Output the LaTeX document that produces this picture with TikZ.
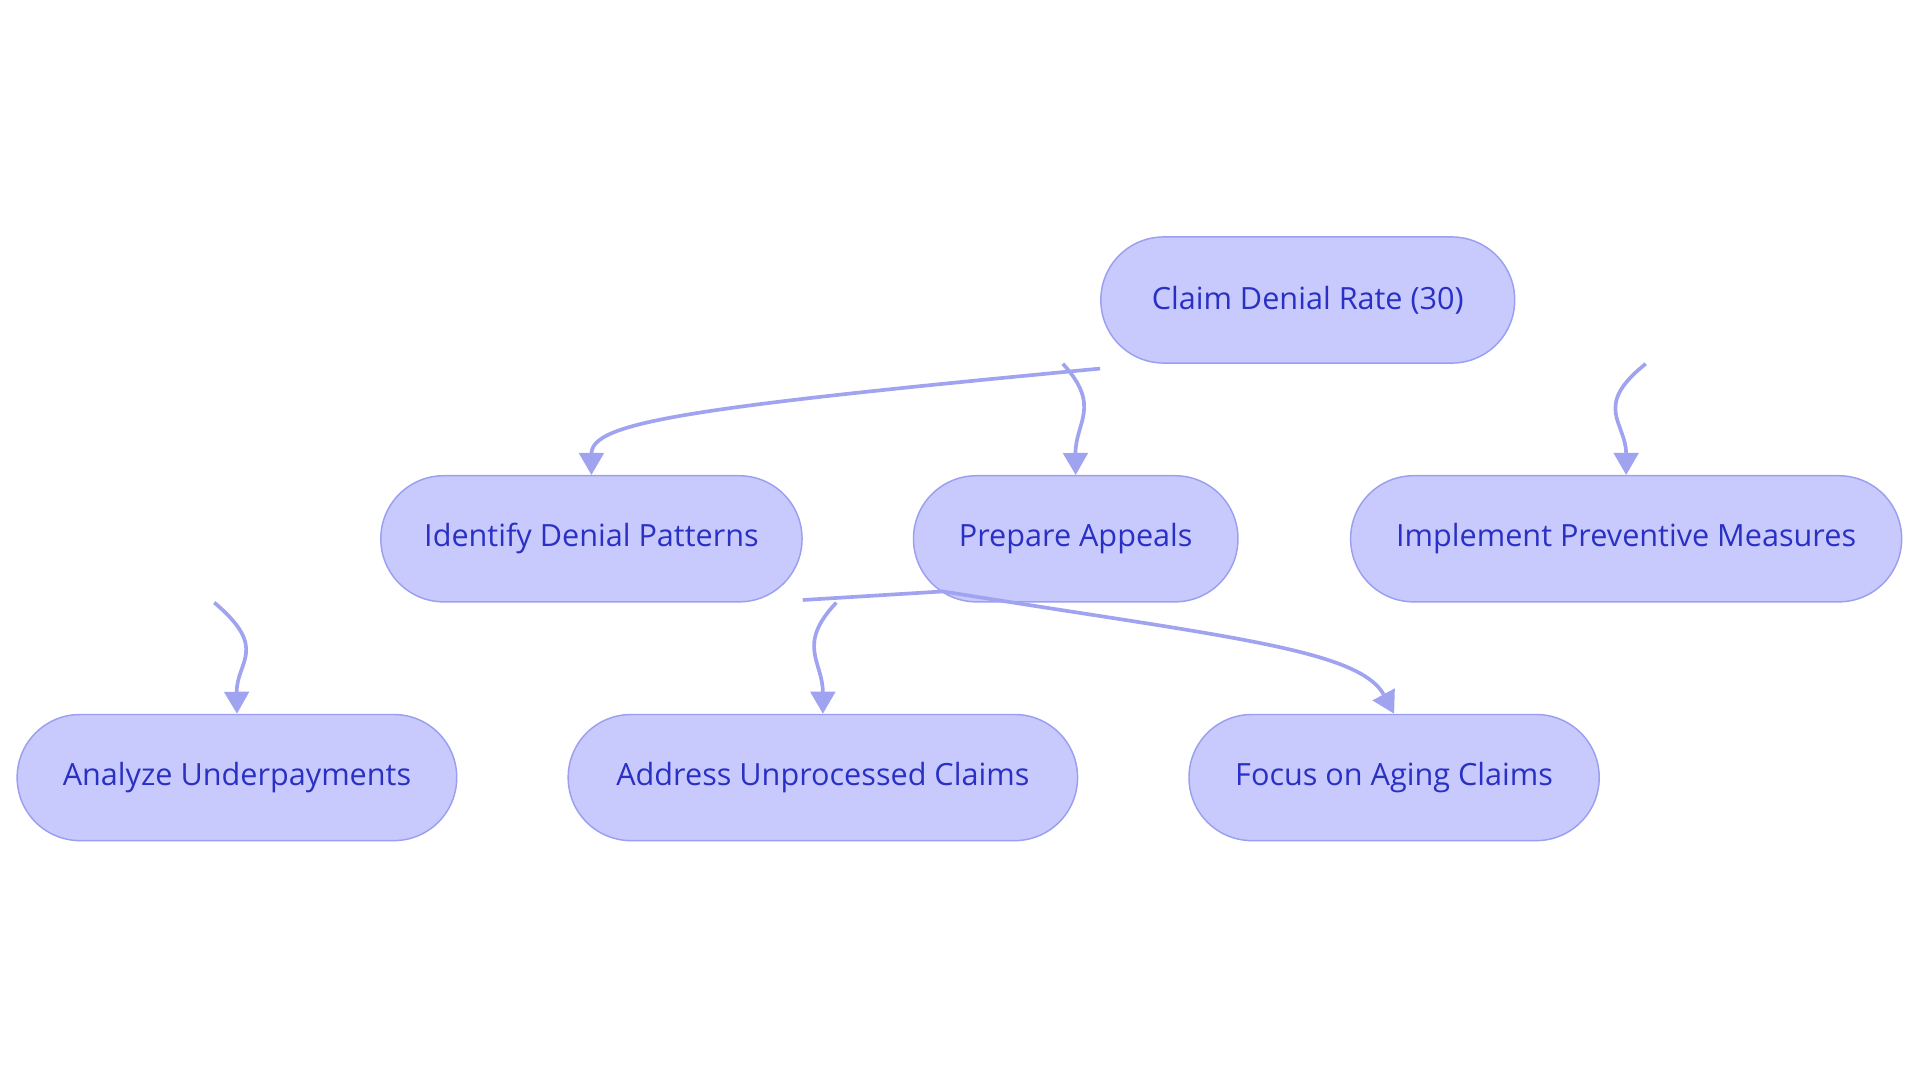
\documentclass[tikz,border=0pt]{standalone}
\usepackage{fontspec}
\setmainfont{Open Sans}
\usetikzlibrary{arrows.meta}
\definecolor{nfill}{HTML}{C8CAFD}
\definecolor{nbord}{HTML}{9B9FEF}
\definecolor{ntext}{HTML}{2A30C4}
\definecolor{edge}{HTML}{A0A3F0}
\begin{document}
\begin{tikzpicture}[x=0.5pt,y=0.5pt,
  box/.style={draw=nbord,fill=nfill,text=ntext,line width=0.6pt,minimum height=51.5pt,rounded corners=25.7pt,font=\fontsize{12.5}{15}\selectfont,inner sep=0pt},
  conn/.style={draw=edge,line width=1.5pt,-{Triangle[length=9pt,width=10pt]}}]
\useasboundingbox (0,0) rectangle (1568,-884);
\node[box,minimum width=169pt] (root) at (1068,-245) {Claim Denial Rate (30)};
\node[box,minimum width=172pt] (idp) at (483,-440) {Identify Denial Patterns};
\node[box,minimum width=132.5pt] (prep) at (878.5,-440) {Prepare Appeals};
\node[box,minimum width=225pt] (impl) at (1328,-440) {Implement Preventive Measures};
\node[box,minimum width=179.5pt] (ana) at (193.5,-635) {Analyze Underpayments};
\node[box,minimum width=208pt] (addr) at (672,-635) {Address Unprocessed Claims};
\node[box,minimum width=167.5pt] (foc) at (1138.5,-635) {Focus on Aging Claims};
\draw[conn] ([yshift=-28]root.west) .. controls (560,-333) and (483,-345) .. (idp.north);
\draw[conn] ([xshift=-100]root.south) .. controls (900,-332) and (878,-345) .. (prep.north);
\draw[conn] ([xshift=138]root.south) .. controls (1300,-332) and (1328,-345) .. (impl.north);
\draw[conn] ([xshift=-154]idp.south) .. controls (220,-530) and (193,-540) .. (ana.north);
\draw[conn] ([xshift=100]idp.south) .. controls (650,-527) and (672,-540) .. (addr.north);
\draw[conn] ([yshift=-25]idp.east) -- (770,-483) .. controls (1000,-520) and (1110,-530) .. (foc.north);
\end{tikzpicture}
\end{document}
